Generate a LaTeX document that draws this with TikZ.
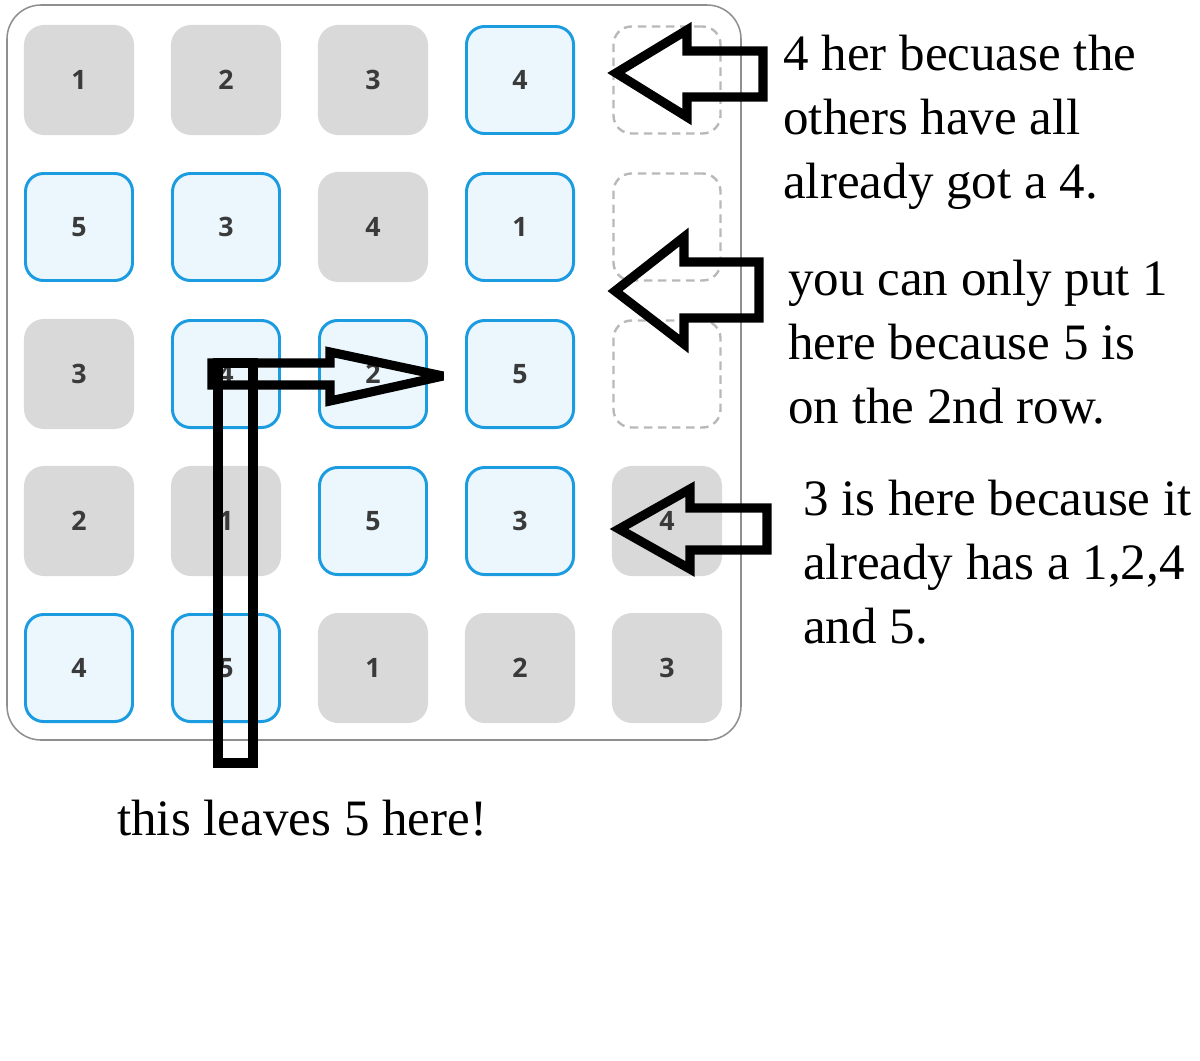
\documentclass[tikz,border=0pt]{standalone}
\usepackage{fontspec}
\setmainfont{Liberation Serif}
\newfontfamily\tilefont{Open Sans}
\usepackage{xcolor}
\usepackage{tikz}
\definecolor{tilegray}{HTML}{D9D9D9}
\definecolor{tileblue}{HTML}{1B9BE0}
\definecolor{tilefill}{HTML}{EBF6FD}
\definecolor{dashgray}{HTML}{B8B8B8}
\definecolor{framegray}{HTML}{8F8F8F}
\definecolor{digit}{HTML}{3A3A3A}

\begin{document}
\begin{tikzpicture}[x=0.025cm,y=-0.025cm,
  gtile/.style={fill=tilegray,rounded corners=0.5cm,minimum size=2.75cm,inner sep=0pt,text=digit,font=\tilefont\bfseries\fontsize{19}{19}\selectfont},
  btile/.style={gtile,fill=tilefill,draw=tileblue,line width=2.1pt,minimum size=2.675cm,rounded corners=0.45cm},
  etile/.style={draw=dashgray,line width=1.7pt,dash pattern=on 6pt off 4pt,rounded corners=0.45cm,minimum size=2.675cm},
  block/.style={draw=black,line width=6.5pt,line join=miter,miter limit=4},
  note/.style={anchor=base west,inner sep=0pt,align=left,font=\fontsize{36.3}{45.2}\selectfont}]
\useasboundingbox (0,0) rectangle (1200,1060);
\draw[framegray,line width=1.1pt,rounded corners=0.85cm] (7,5) rectangle (741,740);
\foreach \c/\r/\v in {1/1/1, 2/1/2, 3/1/3, 3/2/4, 1/3/3, 1/4/2, 2/4/1, 5/4/4, 3/5/1, 4/5/2, 5/5/3}
  \node[gtile] (t\c\r) at ({79+147*(\c-1)},{80+147*(\r-1)}) {\v};
\foreach \c/\r/\v in {4/1/4, 1/2/5, 2/2/3, 4/2/1, 2/3/4, 3/3/2, 4/3/5, 3/4/5, 4/4/3, 1/5/4, 2/5/5}
  \node[btile] (t\c\r) at ({79+147*(\c-1)},{80+147*(\r-1)}) {\v};
\foreach \r in {1,2,3}
  \node[etile] (t5\r) at (667,{80+147*(\r-1)}) {};

\draw[block] (616,73) -- (687,30) -- (687,51) -- (763,51) -- (763,97) -- (687,97) -- (687,117) -- cycle;
\draw[block] (615,291) -- (684,237) -- (684,262) -- (759,262) -- (759,318) -- (684,318) -- (684,344) -- cycle;
\draw[block] (619,529) -- (690,489) -- (690,508) -- (767,508) -- (767,550) -- (690,550) -- (690,569) -- cycle;
\draw[block] (218,363) rectangle (253,763);
\draw[block] (212,363) -- (330,363) -- (330,352) -- (443,376) -- (330,401) -- (330,385) -- (212,385) -- cycle;

\node[note] (note1) at (783,198) {4 her becuase the\\others have all\\already got a 4.};
\node[note] (note2) at (788,423) {you can only put 1\\here because 5 is\\on the 2nd row.};
\node[note] (note3) at (803,643) {3 is here because it\\already has a 1,2,4\\and 5.};
\node[note] (note4) at (117,835) {this leaves 5 here!};
\end{tikzpicture}
\end{document}
